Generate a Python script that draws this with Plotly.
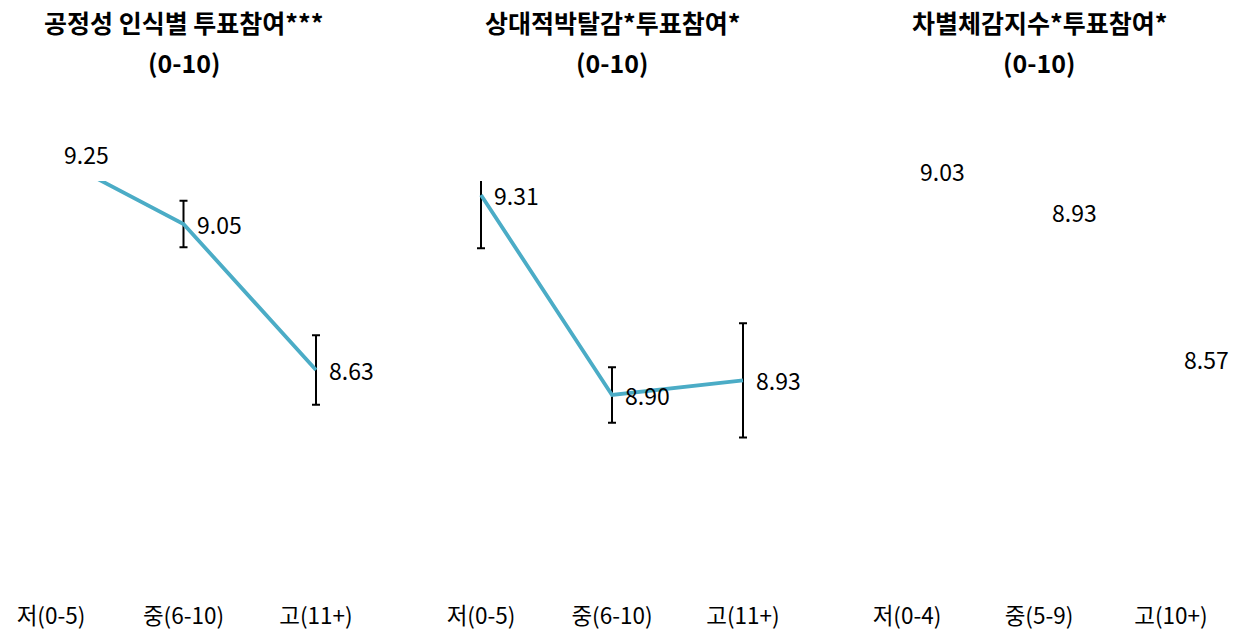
import plotly.graph_objects as go

# ---- data ----
titles = ["공정성 인식별 투표참여***", "상대적박탈감*투표참여*", "차별체감지수*투표참여*"]
subtitle = "(0-10)"
cats1 = ["저(0-5)", "중(6-10)", "고(11+)"]
cats2 = ["저(0-5)", "중(6-10)", "고(11+)"]
cats3 = ["저(0-4)", "중(5-9)", "고(10+)"]
vals1 = [9.25, 9.05, 8.63]
vals2 = [9.31, 8.90, 8.93]
vals3 = [9.03, 8.93, 8.57]
err1 = [0.06, 0.067, 0.10]
err2 = [0.109, 0.057, 0.117]
labels1 = ["9.25", "9.05", "8.63"]
labels2 = ["9.31", "8.90", "8.93"]
labels3 = ["9.03", "8.93", "8.57"]

LINE = "rgb(75,172,198)"
FONT = "Noto Sans CJK KR"
W, H = 1239, 635
TOP, BOT = 181, 600       # clipped plot area (figure px)
TOPL = 100                # top of the unclipped label layer
PH = BOT - TOPL
DTOP = (BOT - TOP) / PH   # domain top of the main plot areas

fig = go.Figure()

panels = [
    (cats1, vals1, err1, labels1, True),
    (cats2, vals2, err2, labels2, True),
    (cats3, vals3, None, labels3, False),
]
xpos = [0, 1, 2]
annotations = []
for i, (cats, vals, errs, labs, show_line) in enumerate(panels):
    xa = "x" if i == 0 else f"x{i+1}"
    ya = "y" if i == 0 else f"y{i+1}"
    yl = f"y{i+4}"
    if show_line:
        fig.add_trace(go.Scatter(
            x=xpos, y=vals, mode="lines", xaxis=xa, yaxis=ya,
            line=dict(color=LINE, width=3.8),
            error_y=dict(type="data", array=errs, color="black", thickness=2, width=4),
            cliponaxis=True, showlegend=False, hoverinfo="skip",
        ))
    else:
        fig.add_trace(go.Scatter(
            x=xpos, y=vals, mode="none", xaxis=xa, yaxis=ya,
            showlegend=False, hoverinfo="skip",
        ))
    fig.add_trace(go.Scatter(
        x=xpos, y=vals, mode="none", xaxis=xa, yaxis=yl,
        showlegend=False, hoverinfo="skip",
    ))
    for xv, yv, t in zip(xpos, vals, labs):
        annotations.append(dict(text=t, xref=xa, yref=yl, x=xv, y=yv,
                                xanchor="left", yanchor="middle", xshift=11,
                                showarrow=False,
                                font=dict(family=FONT, size=23, color="black")))

# pixel layout of each panel (category centers)
centers = [(51, 316), (481, 743), (907, 1171)]
yranges = [[7.968, 9.1737], [8.4797, 9.3387], [7.980, 9.0055]]
pad = 0.3
layout = dict(
    width=W, height=H, autosize=False,
    margin=dict(l=0, r=0, t=TOPL, b=H - BOT),
    paper_bgcolor="white", plot_bgcolor="rgba(0,0,0,0)",
    font=dict(family=FONT, color="black"),
    showlegend=False,
)
for i, ((c0, c2), yr, cats) in enumerate(zip(centers, yranges, [cats1, cats2, cats3])):
    step = (c2 - c0) / 2
    left = max(0.0, (c0 - pad * step) / W)
    right = min(1.0, (c2 + pad * step) / W)
    xk = "xaxis" if i == 0 else f"xaxis{i+1}"
    yk = "yaxis" if i == 0 else f"yaxis{i+1}"
    ya = "y" if i == 0 else f"y{i+1}"
    xa = "x" if i == 0 else f"x{i+1}"
    layout[xk] = dict(domain=[left, right], range=[-pad, 2 + pad], anchor=ya,
                      tickvals=xpos, ticktext=cats, showgrid=False, zeroline=False,
                      showline=False, ticks="", tickfont=dict(family=FONT, size=22.5, color="black"),
                      fixedrange=True)
    layout[yk] = dict(domain=[0, DTOP], range=yr, anchor=xa, visible=False, fixedrange=True)
    # label layer: same scale, taller domain so labels above the clip are kept
    yr_l = [yr[0], yr[0] + (yr[1] - yr[0]) / DTOP]
    layout[f"yaxis{i+4}"] = dict(domain=[0, 1], range=yr_l, anchor=xa, visible=False,
                                 fixedrange=True)
    annotations.append(dict(text=f"<b>{titles[i]}</b>", xref=xa, yref="paper", x=1,
                            y=(BOT - 22) / PH, xanchor="center", yanchor="middle",
                            showarrow=False, font=dict(family=FONT, size=25, color="black")))
    annotations.append(dict(text=f"<b>{subtitle}</b>", xref=xa, yref="paper", x=1,
                            y=(BOT - 62) / PH, xanchor="center", yanchor="middle",
                            showarrow=False, font=dict(family=FONT, size=25, color="black")))
layout["annotations"] = annotations
fig.update_layout(**layout)

fig.write_html("out.html", config={"displayModeBar": False},
               post_script="document.body.style.margin='0';")
